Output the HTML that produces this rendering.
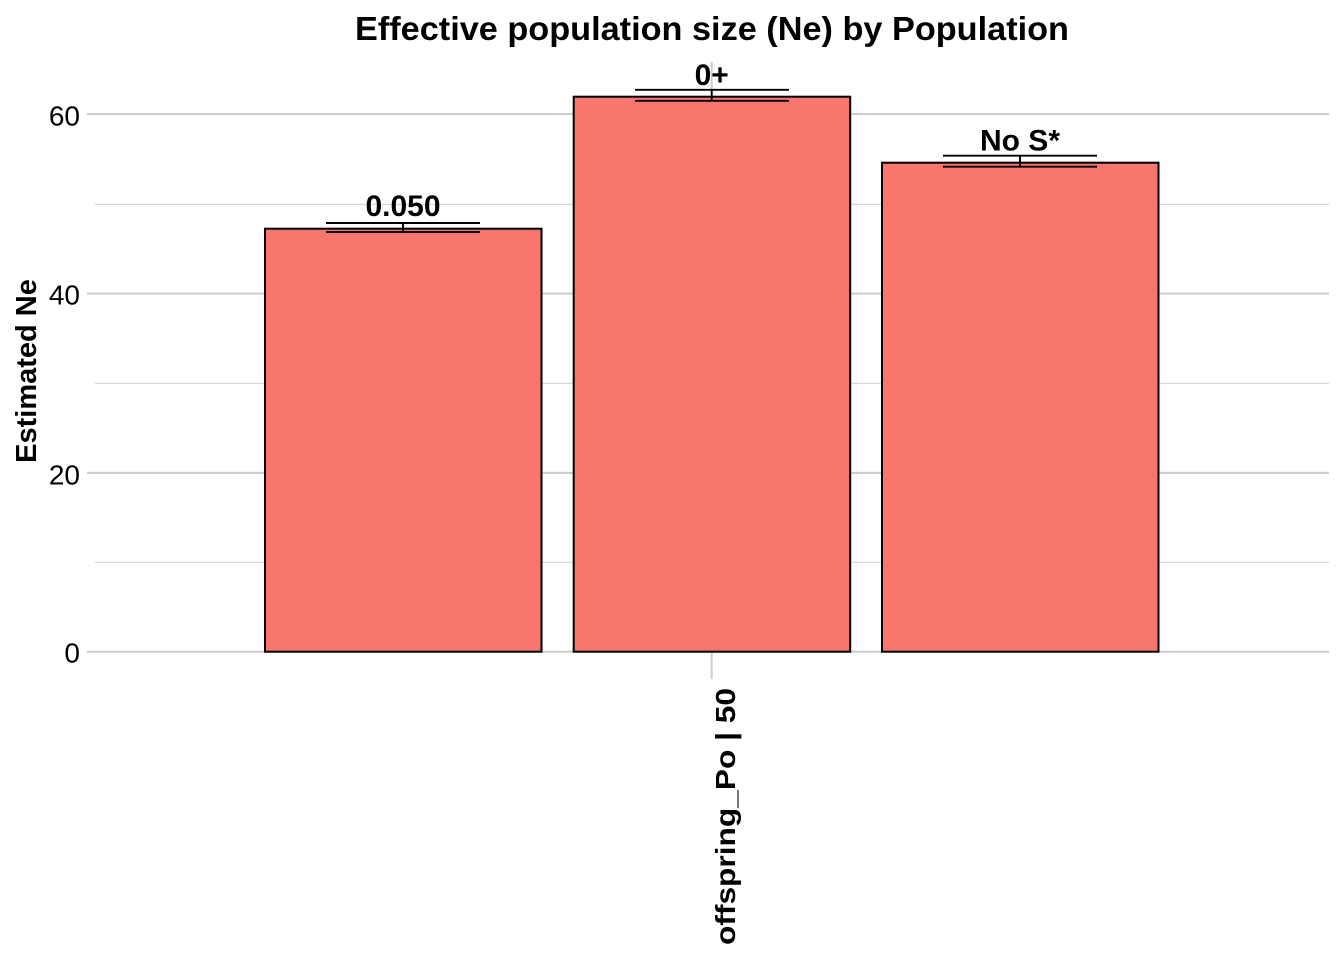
<!DOCTYPE html>
<html>
<head>
<meta charset="utf-8">
<style>
  html, body { margin: 0; padding: 0; background: #ffffff; }
  svg { display: block; }
  text { font-family: "Liberation Sans", Arial, sans-serif; fill: #000; }
</style>
</head>
<body>
<svg width="1344" height="960" viewBox="0 0 1344 960" xmlns="http://www.w3.org/2000/svg">
  <rect x="0" y="0" width="1344" height="960" fill="#ffffff"/>

  <!-- minor gridlines -->
  <g stroke="#d2d2d2" stroke-width="1.2">
    <line x1="95" y1="562.3" x2="1329" y2="562.3"/>
    <line x1="95" y1="383.3" x2="1329" y2="383.3"/>
    <line x1="95" y1="204.3" x2="1329" y2="204.3"/>
  </g>
  <!-- major gridlines (incl. tick extension) -->
  <g stroke="#cccccc" stroke-width="2">
    <line x1="87" y1="651.7" x2="1329" y2="651.7"/>
    <line x1="87" y1="472.9" x2="1329" y2="472.9"/>
    <line x1="87" y1="293.5" x2="1329" y2="293.5"/>
    <line x1="87" y1="114" x2="1329" y2="114"/>
    <line x1="711.7" y1="62" x2="711.7" y2="679"/>
  </g>

  <!-- bars -->
  <g fill="#F8766D" stroke="#000" stroke-width="2">
    <rect x="265" y="228.7" width="276.5" height="423"/>
    <rect x="573.7" y="96.7" width="276.5" height="555"/>
    <rect x="882" y="162.7" width="276.5" height="489"/>
  </g>

  <!-- error bars -->
  <g stroke="#000" stroke-width="1.9" fill="none">
    <line x1="326" y1="223" x2="480" y2="223"/>
    <line x1="326" y1="232" x2="480" y2="232"/>
    <line x1="403" y1="223" x2="403" y2="232"/>

    <line x1="635" y1="89.8" x2="789" y2="89.8"/>
    <line x1="635" y1="100.8" x2="789" y2="100.8"/>
    <line x1="711.7" y1="89.8" x2="711.7" y2="100.8"/>

    <line x1="943" y1="155.7" x2="1097" y2="155.7"/>
    <line x1="943" y1="166.7" x2="1097" y2="166.7"/>
    <line x1="1020" y1="155.7" x2="1020" y2="166.7"/>
  </g>

  <!-- bar labels -->
  <g font-weight="bold" font-size="30" text-anchor="middle">
    <text x="403" y="216">0.050</text>
    <text x="711.7" y="85">0+</text>
    <text x="1020" y="150.7">No S*</text>
  </g>

  <!-- y tick labels -->
  <g font-size="28" text-anchor="end">
    <text x="80" y="662.7">0</text>
    <text x="80" y="484.5">20</text>
    <text x="80" y="304.7">40</text>
    <text x="80" y="125.7">60</text>
  </g>

  <!-- y axis title -->
  <text transform="translate(36,371) rotate(-90)" text-anchor="middle" font-size="29" font-weight="bold">Estimated Ne</text>

  <!-- x tick label -->
  <text transform="translate(735,688) rotate(-90)" text-anchor="end" font-size="28" font-weight="bold" textLength="257" lengthAdjust="spacingAndGlyphs">offspring_Po | 50</text>

  <!-- title -->
  <text x="712" y="40" text-anchor="middle" font-size="33" font-weight="bold" textLength="714" lengthAdjust="spacingAndGlyphs">Effective population size (Ne) by Population</text>
</svg>
</body>
</html>
